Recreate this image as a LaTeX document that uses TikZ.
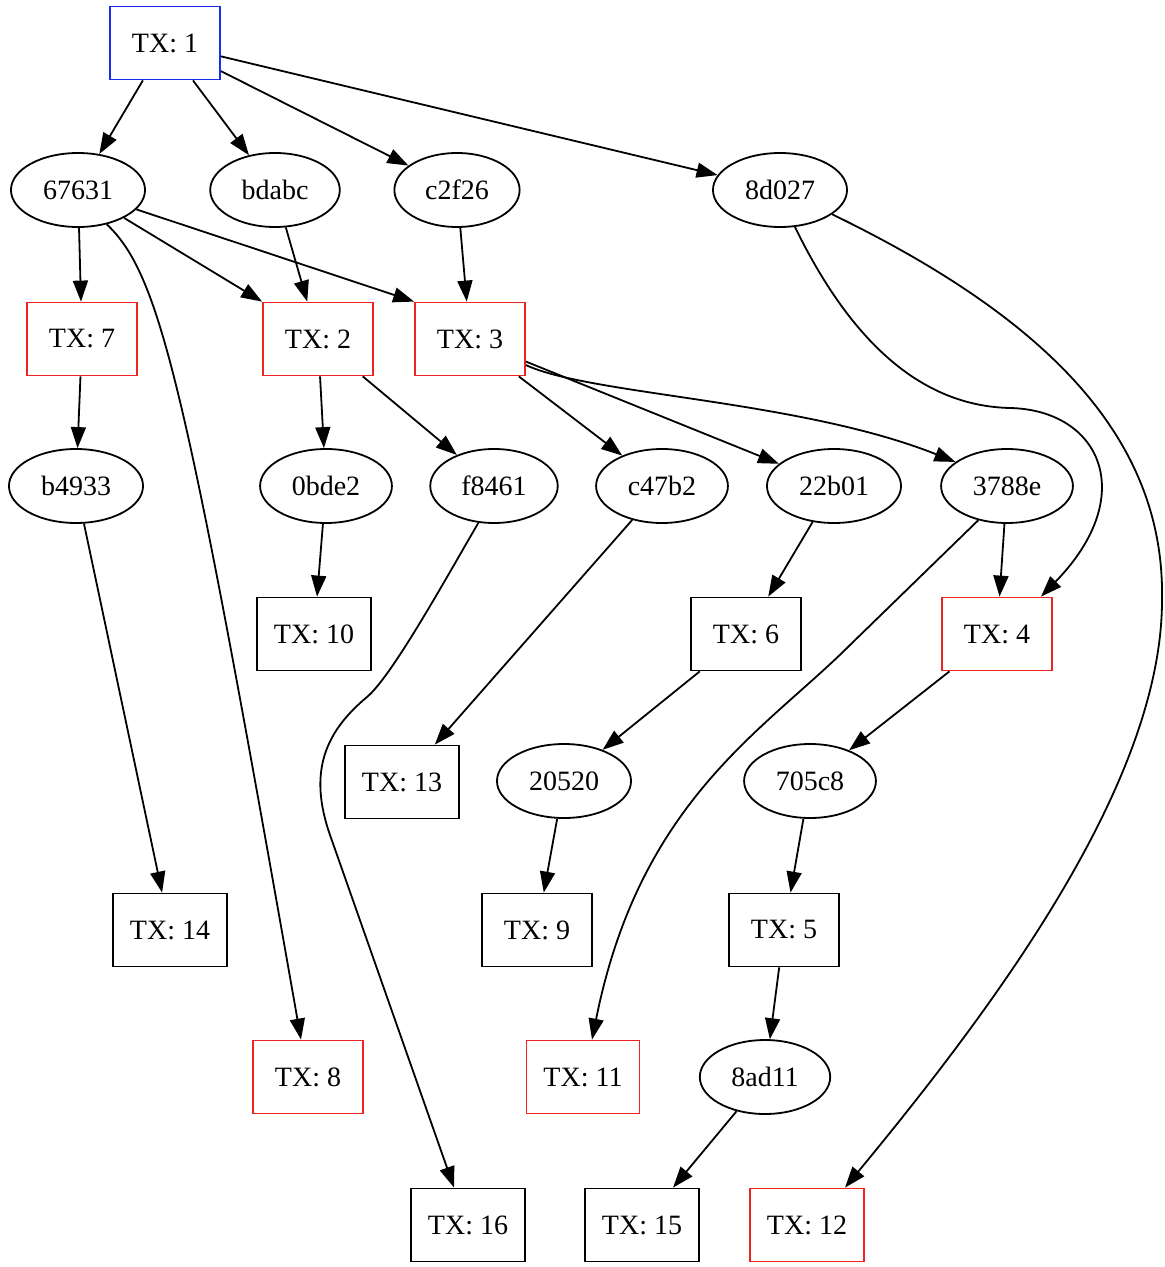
\documentclass[tikz,border=0pt]{standalone}
\usepackage{fontspec}
\setmainfont{Liberation Serif}
\usetikzlibrary{shapes.geometric,arrows.meta}
\definecolor{txred}{RGB}{240,35,35}
\definecolor{txblue}{RGB}{25,45,240}
\begin{document}
\begin{tikzpicture}
            [x=0.5pt,y=-0.5pt,
            Tx/.style={rectangle,draw=black,line width=0.9pt,minimum width=55pt,minimum height=36.5pt,inner xsep=8.5pt,font=\fontsize{14}{16}\selectfont},
            TxRed/.style={Tx,draw=txred},
            TxBlue/.style={Tx,draw=txblue},
            Hash/.style={ellipse,draw=black,line width=0.9pt,minimum height=37pt,inner xsep=6.2pt,inner ysep=0pt,font=\fontsize{14}{16}\selectfont},
            Edge/.style={line width=0.9pt,-{Triangle[length=10.5pt,width=7.5pt]}}];
            \useasboundingbox (0,0) rectangle (1165,1267);
            \node[TxBlue] (tx1) at (165,43){TX: 1};
            \node[Hash] (n67631) at (78,190){67631};
            \node[Hash] (nbdabc) at (275,190){bdabc};
            \node[Hash] (nc2f26) at (457,190){c2f26};
            \node[Hash] (n8d027) at (780,190){8d027};
            \node[TxRed] (tx7) at (82,339){TX: 7};
            \node[TxRed] (tx2) at (318,339){TX: 2};
            \node[TxRed] (tx3) at (470,339){TX: 3};
            \node[Hash] (nb4933) at (76,486){b4933};
            \node[Hash] (n0bde2) at (326,486){0bde2};
            \node[Hash] (nf8461) at (494,486){f8461};
            \node[Hash] (nc47b2) at (662,486){c47b2};
            \node[Hash] (n22b01) at (834,486){22b01};
            \node[Hash] (n3788e) at (1007,486){3788e};
            \node[Tx] (tx10) at (314,634){TX: 10};
            \node[Tx] (tx6) at (746,634){TX: 6};
            \node[TxRed] (tx4) at (997,634){TX: 4};
            \node[Tx] (tx13) at (402,782){TX: 13};
            \node[Hash] (n20520) at (564,781){20520};
            \node[Hash] (n705c8) at (810,781){705c8};
            \node[Tx] (tx14) at (170,930){TX: 14};
            \node[Tx] (tx9) at (537,930){TX: 9};
            \node[Tx] (tx5) at (784,930){TX: 5};
            \node[TxRed] (tx8) at (308,1077){TX: 8};
            \node[TxRed] (tx11) at (583,1077){TX: 11};
            \node[Hash] (n8ad11) at (765,1077){8ad11};
            \node[Tx] (tx16) at (468,1225){TX: 16};
            \node[Tx] (tx15) at (642,1225){TX: 15};
            \node[TxRed] (tx12) at (807,1225){TX: 12};
            \draw[Edge](tx1) to (n67631);
            \draw[Edge](tx1) to (nbdabc);
            \draw[Edge](tx1) to (nc2f26);
            \draw[Edge](tx1) to (n8d027);
            \draw[Edge](n67631) to (tx7);
            \draw[Edge](n67631) to (tx2.north west);
            \draw[Edge](n67631) to (tx3.north west);
            \draw[Edge](n67631.-50) .. controls (160,275) and (185,380) .. ([xshift=-3.5pt]tx8.north);
            \draw[Edge](nbdabc) to (tx2);
            \draw[Edge](nc2f26) to (tx3);
            \draw[Edge](n8d027.-68) .. controls (850,340) and (920,406) .. (1010,408) .. controls (1100,410) and (1140,495) .. ([xshift=22pt]tx4.north);
            \draw[Edge](n8d027.-25) .. controls (1050,320) and (1165,440) .. (1162,600) .. controls (1162,780) and (1000,1000) .. ([xshift=19pt]tx12.north);
            \draw[Edge](tx7) to (nb4933);
            \draw[Edge](tx2) to (n0bde2);
            \draw[Edge](tx2) to (nf8461);
            \draw[Edge](tx3) to (nc47b2);
            \draw[Edge](tx3) to (n22b01);
            \draw[Edge](tx3.-25) .. controls (590,395) and (800,400) .. (n3788e.155);
            \draw[Edge](nb4933) to (tx14);
            \draw[Edge](n0bde2) to (tx10);
            \draw[Edge](nf8461.-113) .. controls (445,580) and (392,676) .. (367,697) .. controls (325,732) and (308,772) .. (330,835) -- ([xshift=-7pt]tx16.north);
            \draw[Edge](nc47b2) to (tx13);
            \draw[Edge](n22b01) to (tx6);
            \draw[Edge](n3788e) to (tx4);
            \draw[Edge](n3788e.-130) -- (850,645) .. controls (765,730) and (640,800) .. ([xshift=4.5pt]tx11.north);
            \draw[Edge](tx6) to (n20520);
            \draw[Edge](tx4) to (n705c8);
            \draw[Edge](n20520) to (tx9);
            \draw[Edge](n705c8) to (tx5);
            \draw[Edge](tx5) to (n8ad11);
            \draw[Edge](n8ad11) to (tx15);
        \end{tikzpicture}
\end{document}
